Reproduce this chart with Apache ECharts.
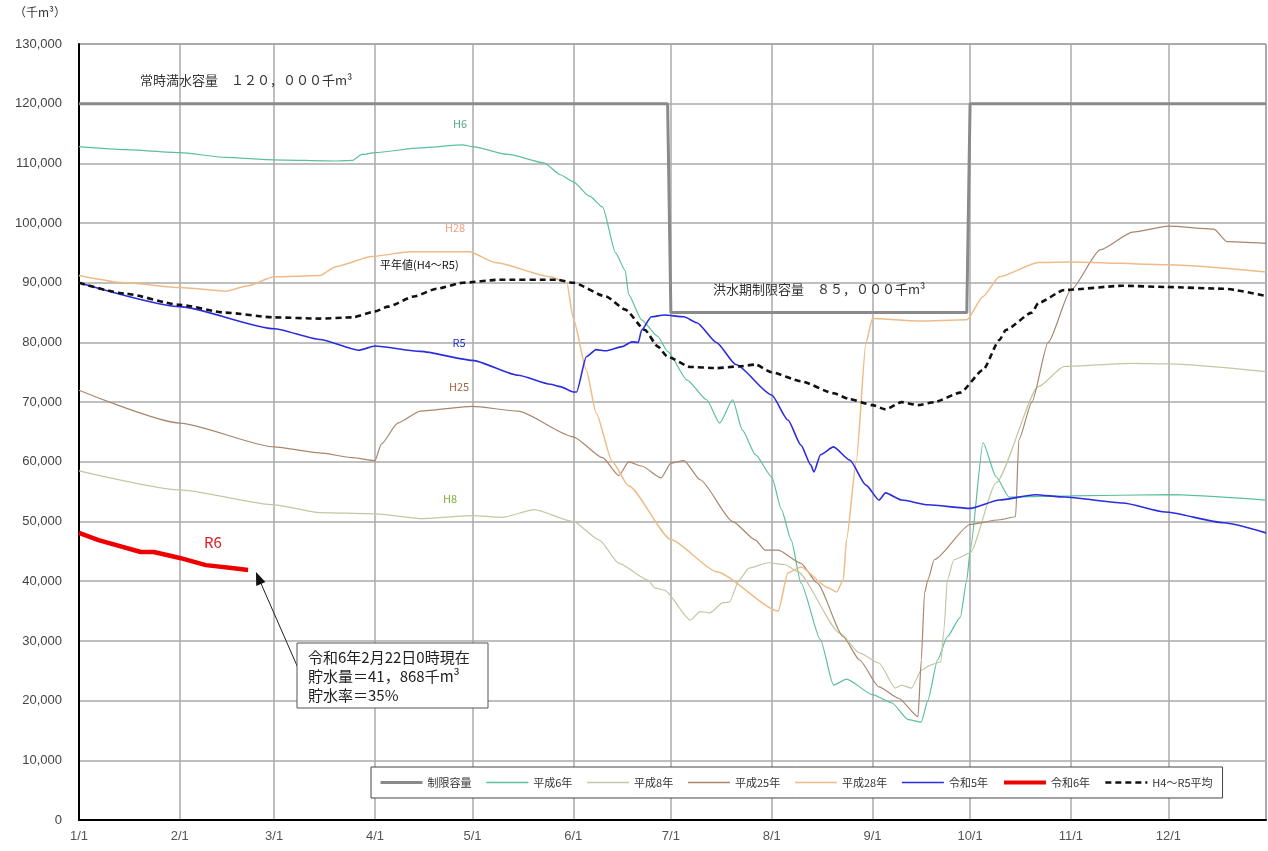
<!DOCTYPE html>
<html>
<head>
<meta charset="utf-8">
<script src="https://cdn.jsdelivr.net/npm/echarts@6/dist/echarts.min.js"></script>
<style>
html,body{margin:0;padding:0;background:#fff;}
#main{width:1268px;height:851px;}
</style>
</head>
<body>
<div id="main"></div>
<script>
// ---- categories (days of the year, leap-year calendar) ----
const monthLengths = [31,29,31,30,31,30,31,31,30,31,30,31];
const dateCats = [];
monthLengths.forEach((n, m) => { for (let d = 1; d <= n; d++) dateCats.push((m + 1) + '/' + d); });

// ---- series data: [date, 千m3] ----
const limitCapacity = [['1/1',120000],['6/30',120000],['7/1',85000],['9/30',85000],['10/1',120000],['12/31',120000]];

const h6 = [['1/1',112800],['1/15',112300],['2/1',111800],['2/15',111000],['3/1',110600],['3/20',110400],['3/25',110500],['3/28',111500],['4/1',111800],['4/15',112600],['4/28',113100],['5/1',112800],['5/12',111500],['5/23',110100],['5/28',108100],['6/1',106900],['6/6',104500],['6/10',102700],['6/14',95000],['6/17',92000],['6/18',88000],['6/22',83800],['6/27',81000],['6/30',78500],['7/6',73700],['7/12',70400],['7/16',66500],['7/20',70400],['7/23',65300],['7/27',61200],['8/1',57500],['8/4',52000],['8/7',46900],['8/10',39700],['8/16',30200],['8/20',22600],['8/24',23600],['9/1',21000],['9/7',19600],['9/12',16800],['9/16',16400],['9/18',20000],['9/21',26800],['9/24',30700],['9/28',34000],['9/30',40200],['10/1',45000],['10/5',63200],['10/9',57500],['10/13',54100],['11/1',54300],['12/1',54500],['12/31',53600]];

const h8 = [['1/1',58500],['2/1',55300],['3/1',52800],['3/15',51500],['4/1',51300],['4/15',50500],['5/1',51000],['5/10',50700],['5/20',52000],['6/1',50000],['6/9',46900],['6/15',43000],['6/24',40200],['6/26',38900],['6/29',38500],['7/7',33500],['7/10',34900],['7/13',34700],['7/17',36400],['7/19',36500],['7/22',40200],['7/25',42200],['7/31',43100],['8/5',42800],['8/9',41600],['8/22',31300],['8/28',28000],['9/3',26300],['9/8',22100],['9/10',22600],['9/13',22100],['9/16',25100],['9/19',26000],['9/22',26500],['9/23',32000],['9/24',40200],['9/26',43600],['10/1',44700],['10/9',56500],['10/22',72600],['10/30',76000],['11/20',76500],['12/1',76400],['12/31',75100]];

const h25 = [['1/1',72000],['2/1',66500],['3/1',62500],['3/15',61500],['3/25',60700],['4/1',60200],['4/3',63000],['4/8',66500],['4/15',68500],['5/1',69300],['5/15',68500],['6/1',64200],['6/10',60700],['6/15',57700],['6/18',60000],['6/22',59300],['6/28',57300],['7/1',59800],['7/5',60200],['7/10',57000],['7/20',50000],['7/27',46900],['7/30',45200],['8/3',45200],['8/10',43000],['8/15',39700],['8/23',30700],['8/28',26800],['9/3',22300],['9/9',20400],['9/15',17300],['9/16',26800],['9/17',38000],['9/18',40200],['9/20',43600],['10/1',49500],['10/10',50300],['10/15',50800],['10/16',63700],['10/20',70000],['10/25',80000],['11/1',88800],['11/10',95500],['11/20',98500],['12/1',99500],['12/15',99000],['12/19',96900],['12/31',96600]];

const h28 = [['1/1',91200],['1/15',90000],['2/1',89200],['2/15',88600],['2/22',89500],['3/1',91000],['3/15',91200],['3/20',92700],['3/31',94400],['4/12',95200],['4/30',95200],['5/8',93400],['5/25',91000],['5/30',90000],['6/1',84000],['6/5',75400],['6/8',68200],['6/13',60000],['6/18',56000],['7/1',47000],['7/15',41600],['8/3',35000],['8/6',41400],['8/10',42400],['8/18',39000],['8/21',38200],['8/23',40200],['8/24',46900],['8/27',60000],['8/30',80000],['9/1',84000],['9/15',83600],['9/30',83800],['10/5',87700],['10/10',91000],['10/22',93400],['11/1',93500],['12/1',93000],['12/31',91800]];

const r5 = [['1/1',90000],['2/1',86000],['3/1',82300],['3/15',80500],['3/27',78700],['4/1',79400],['4/15',78500],['5/1',77000],['5/15',74500],['5/25',73000],['5/28',72600],['6/1',71700],['6/2',71700],['6/5',77600],['6/8',78800],['6/11',78600],['6/16',79300],['6/19',80100],['6/21',80000],['6/22',82100],['6/25',84300],['6/29',84600],['7/5',84300],['7/9',83300],['7/15',80000],['7/21',76300],['8/1',71200],['8/6',67000],['8/10',62800],['8/13',59500],['8/14',58300],['8/16',61200],['8/20',62500],['8/25',60300],['8/30',56100],['9/3',53600],['9/5',54800],['9/10',53600],['9/18',52800],['10/1',52200],['10/10',53600],['10/21',54500],['10/30',54100],['11/17',53100],['11/30',51600],['12/18',49800],['12/31',48100]];

const r6 = [['1/1',48100],['1/7',46900],['1/20',44900],['1/24',44900],['2/1',43900],['2/9',42700],['2/17',42200],['2/22',41900]];

const avg = [['1/1',90000],['1/15',88200],['2/1',86300],['2/15',85000],['3/1',84200],['3/15',84000],['3/25',84200],['4/1',85200],['4/5',86000],['4/13',87700],['4/20',89000],['4/28',90000],['5/9',90500],['5/27',90500],['6/1',90000],['6/11',87700],['6/17',85500],['6/23',82100],['6/27',79300],['6/30',77600],['7/7',75900],['7/15',75700],['7/22',76000],['7/27',76300],['8/1',75000],['8/10',73500],['8/20',71500],['8/25',70500],['9/1',69500],['9/5',68800],['9/10',70000],['9/15',69500],['9/20',70000],['9/28',71600],['10/5',75400],['10/10',80400],['10/12',82100],['10/20',85000],['10/22',86600],['10/30',88800],['11/17',89500],['11/30',89300],['12/18',89000],['12/31',87800]];

const seriesNames = ['制限容量','平成6年','平成8年','平成25年','平成28年','令和5年','令和6年','H4～R5平均'];
const yTicks = { min: 0, max: 130000, interval: 10000 };

const FONT = "'Noto Sans CJK JP','Noto Sans',sans-serif";
const chart = echarts.init(document.getElementById('main'), null, { renderer: 'canvas' });

function line(name, data, color, width, extra) {
  return Object.assign({
    name, type: 'line', data, symbol: 'none', showSymbol: false,
    smooth: 0.2, smoothMonotone: 'x',
    lineStyle: { color, width }, itemStyle: { color }, z: 3, animation: false
  }, extra || {});
}
const isMonthStart = (i, v) => /\/1$/.test(v);
const legendWidths = [3, 1.5, 1.5, 1.5, 1.5, 1.5, 4, 2.5];

chart.setOption({
  animation: false,
  backgroundColor: '#fff',
  textStyle: { fontFamily: FONT },
  grid: { left: 79, right: 2, top: 44, bottom: 31, show: true, borderColor: '#555', borderWidth: 1 },
  xAxis: {
    type: 'category', data: dateCats, boundaryGap: false,
    axisLine: { lineStyle: { color: '#000', width: 2 } },
    axisTick: { show: false },
    axisLabel: { interval: isMonthStart, color: '#555', fontSize: 13, margin: 10, fontFamily: "'Liberation Sans Narrow','Liberation Sans',sans-serif" },
    splitLine: { show: true, interval: isMonthStart, lineStyle: { color: '#aaa', width: 1.5 } }
  },
  yAxis: {
    type: 'value', min: yTicks.min, max: yTicks.max, interval: yTicks.interval,
    axisLine: { show: true, lineStyle: { color: '#000', width: 2 } },
    axisTick: { show: false },
    axisLabel: { color: '#444', fontSize: 13, margin: 17, fontFamily: "'Liberation Sans',sans-serif",
      formatter: v => v.toString().replace(/\B(?=(\d{3})+(?!\d))/g, ',') },
    splitLine: { lineStyle: { color: '#aaa', width: 1.5 } }
  },
  legend: {
    data: seriesNames.map((n, i) => ({ name: n, lineStyle: { width: legendWidths[i] } })),
    left: 371, top: 767, orient: 'horizontal',
    backgroundColor: '#fff', borderColor: '#444', borderWidth: 1,
    padding: [10, 10, 10, 8], itemWidth: 42, itemHeight: 10, itemGap: 14,
    itemStyle: { opacity: 0 },
    textStyle: { fontSize: 11, color: '#333', fontFamily: FONT }
  },
  series: [
    line(seriesNames[0], limitCapacity, '#8a8a8a', 3, { z: 2, smooth: false }),
    line(seriesNames[1], h6, '#5cbf9c', 1.2),
    line(seriesNames[2], h8, '#c2c8a2', 1.2),
    line(seriesNames[3], h25, '#a8866c', 1.2),
    line(seriesNames[4], h28, '#eebb88', 1.5),
    line(seriesNames[5], r5, '#2b2be0', 1.6),
    line(seriesNames[6], r6, '#ee0000', 4.5, { smooth: false }),
    line(seriesNames[7], avg, '#111', 2.6, { lineStyle: { color: '#111', width: 2.6, type: [6, 4] } })
  ],
  graphic: [
    { type: 'text', left: 14, top: 6, style: { text: '（千m³）', font: '12px ' + FONT, fill: '#333' } },
    { type: 'text', x: 140, y: 80, style: { text: '常時満水容量　１２０，０００千m³', font: '13px ' + FONT, fill: '#333', verticalAlign: 'middle' }, z: 10 },
    { type: 'text', x: 713, y: 289, style: { text: '洪水期制限容量　８５，０００千m³', font: '13px ' + FONT, fill: '#333', verticalAlign: 'middle' }, z: 10 },
    { type: 'text', x: 460, y: 124, style: { text: 'H6', font: '11px ' + FONT, fill: '#4fa888', align: 'center', verticalAlign: 'middle' }, z: 10 },
    { type: 'text', x: 455, y: 228, style: { text: 'H28', font: '11px ' + FONT, fill: '#f0a080', align: 'center', verticalAlign: 'middle' }, z: 10 },
    { type: 'text', x: 380, y: 265, style: { text: '平年値(H4～R5)', font: '11px ' + FONT, fill: '#111', verticalAlign: 'middle' }, z: 10 },
    { type: 'text', x: 459, y: 343, style: { text: 'R5', font: '11px ' + FONT, fill: '#2030c0', align: 'center', verticalAlign: 'middle' }, z: 10 },
    { type: 'text', x: 459, y: 387, style: { text: 'H25', font: '11px ' + FONT, fill: '#a06840', align: 'center', verticalAlign: 'middle' }, z: 10 },
    { type: 'text', x: 450, y: 499, style: { text: 'H8', font: '11px ' + FONT, fill: '#80b040', align: 'center', verticalAlign: 'middle' }, z: 10 },
    { type: 'text', x: 213, y: 542, style: { text: 'R6', font: '15px ' + FONT, fill: '#e02020', align: 'center', verticalAlign: 'middle' }, z: 10 },
    { type: 'line', shape: { x1: 298, y1: 668, x2: 259, y2: 579 }, style: { stroke: '#222', lineWidth: 1 }, z: 10 },
    { type: 'polygon', shape: { points: [[256, 572], [265.4, 582], [256.2, 586]] }, style: { fill: '#111' }, z: 10 },
    { type: 'rect', shape: { x: 297, y: 643, width: 191, height: 65 }, style: { fill: '#fff', stroke: '#555', lineWidth: 1 }, z: 10 },
    { type: 'text', x: 308, y: 657, style: { text: '令和6年2月22日0時現在', font: '15px ' + FONT, fill: '#222', verticalAlign: 'middle' }, z: 11 },
    { type: 'text', x: 308, y: 676, style: { text: '貯水量＝41，868千m³', font: '15px ' + FONT, fill: '#222', verticalAlign: 'middle' }, z: 11 },
    { type: 'text', x: 308, y: 695, style: { text: '貯水率＝35%', font: '15px ' + FONT, fill: '#222', verticalAlign: 'middle' }, z: 11 }
  ]
});
</script>
</body>
</html>
